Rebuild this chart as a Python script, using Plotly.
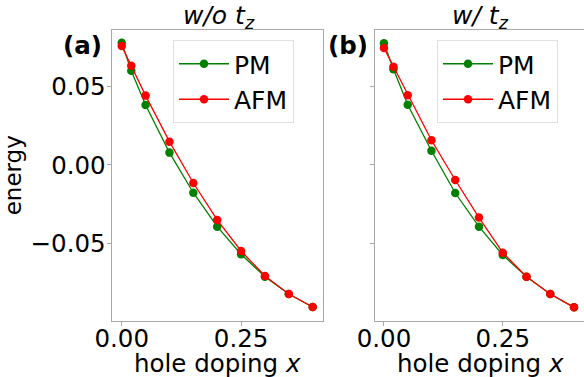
import plotly.graph_objects as go

doping = [0.0, 0.02, 0.05, 0.10, 0.15, 0.20, 0.25, 0.30, 0.35, 0.40]

pm_a = [0.0781, 0.0602, 0.0383, 0.0079, -0.0177, -0.0394, -0.0570, -0.0713, -0.0824, -0.0907]
afm_a = [0.0760, 0.0634, 0.0443, 0.0149, -0.0115, -0.0351, -0.0549, -0.0709, -0.0824, -0.0907]
pm_b = [0.0777, 0.0611, 0.0385, 0.0091, -0.0179, -0.0394, -0.0575, -0.0713, -0.0824, -0.0909]
afm_b = [0.0747, 0.0628, 0.0445, 0.0158, -0.0096, -0.0336, -0.0560, -0.0713, -0.0824, -0.0909]

x_ticks = [0.0, 0.25]
x_ticktext = ["0.00", "0.25"]
y_ticks = [-0.05, 0.0, 0.05]
y_ticktext = ["\u22120.05", "0.00", "0.05"]

FONT = "DejaVu Sans"
GREEN = "#008000"
RED = "#ff0000"
FS = 24.5

fig = go.Figure()

def add(x, y, name, color, xa, ya, leg):
    fig.add_trace(go.Scatter(
        x=x, y=y, name=name, mode="lines+markers",
        line=dict(color=color, width=1.3),
        marker=dict(color=color, size=8.5),
        xaxis=xa, yaxis=ya, legend=leg, showlegend=True,
    ))

add(doping, pm_a, "PM", GREEN, "x", "y", "legend")
add(doping, afm_a, "AFM", RED, "x", "y", "legend")
add(doping, pm_b, "PM", GREEN, "x2", "y2", "legend2")
add(doping, afm_b, "AFM", RED, "x2", "y2", "legend2")

W, H = 584, 377
xl1, xr1 = 111.7 / W, 322.7 / W
xl2, xr2 = 375.4 / W, 1.0
yt, yb = 1 - 30 / H, 1 - 320.5 / H
yrange = [-0.0993, 0.0862]

axis_common = dict(
    showline=True, linecolor="#a8a8a8", linewidth=1.2, mirror=True,
    ticks="outside", ticklen=4, tickcolor="#a8a8a8", tickwidth=1,
    showgrid=False, zeroline=False, automargin=False,
    tickfont=dict(family=FONT, size=FS, color="black"),
)

legend_common = dict(
    yanchor="top", xanchor="left",
    bgcolor="white", bordercolor="#e0e0e0", borderwidth=1,
    font=dict(family=FONT, size=25), itemwidth=50, tracegroupgap=0,
)

def ann(text, x, y, size, xanchor="center"):
    return dict(text=text, x=x / W, y=1 - y / H, xref="paper", yref="paper",
                xanchor=xanchor, yanchor="middle", showarrow=False,
                font=dict(family=FONT, size=size, color="black"))

fig.update_layout(
    template="none",
    width=W, height=H,
    margin=dict(l=0, r=0, t=0, b=0, pad=0),
    paper_bgcolor="white", plot_bgcolor="white",
    font=dict(family=FONT, color="black"),
    xaxis=dict(domain=[xl1, xr1], range=[-0.021, 0.421], anchor="y",
               tickvals=x_ticks, ticktext=x_ticktext, ticklabelstandoff=-8,
               **axis_common),
    yaxis=dict(domain=[yb, yt], range=yrange, anchor="x",
               tickvals=y_ticks, ticktext=y_ticktext, ticklabelstandoff=-4,
               title=dict(text="energy", font=dict(family=FONT, size=23), standoff=6),
               **axis_common),
    xaxis2=dict(domain=[xl2, xr2], range=[-0.018, 0.421], anchor="y2",
                tickvals=x_ticks, ticktext=x_ticktext, ticklabelstandoff=-8,
                **axis_common),
    yaxis2=dict(domain=[yb, yt], range=yrange, anchor="x2",
                tickvals=y_ticks, showticklabels=False, **axis_common),
    legend=dict(x=173 / W, y=1 - 40 / H, **legend_common),
    legend2=dict(x=437 / W, y=1 - 40 / H, **legend_common),
    annotations=[
        ann("<i>w/o t</i><sub><i>z</i></sub>", 219, 17, 25),
        ann("<i>w/ t</i><sub><i>z</i></sub>", 480, 17, 25),
        ann("<b>(a)</b>", 104, 46, 24.5, "right"),
        ann("<b>(b)</b>", 370, 46, 24.5, "right"),
        ann("hole doping <i>x</i>", 217, 363, FS),
        ann("hole doping <i>x</i>", 480, 363, FS),
    ],
)

fig.write_html("out.html")
